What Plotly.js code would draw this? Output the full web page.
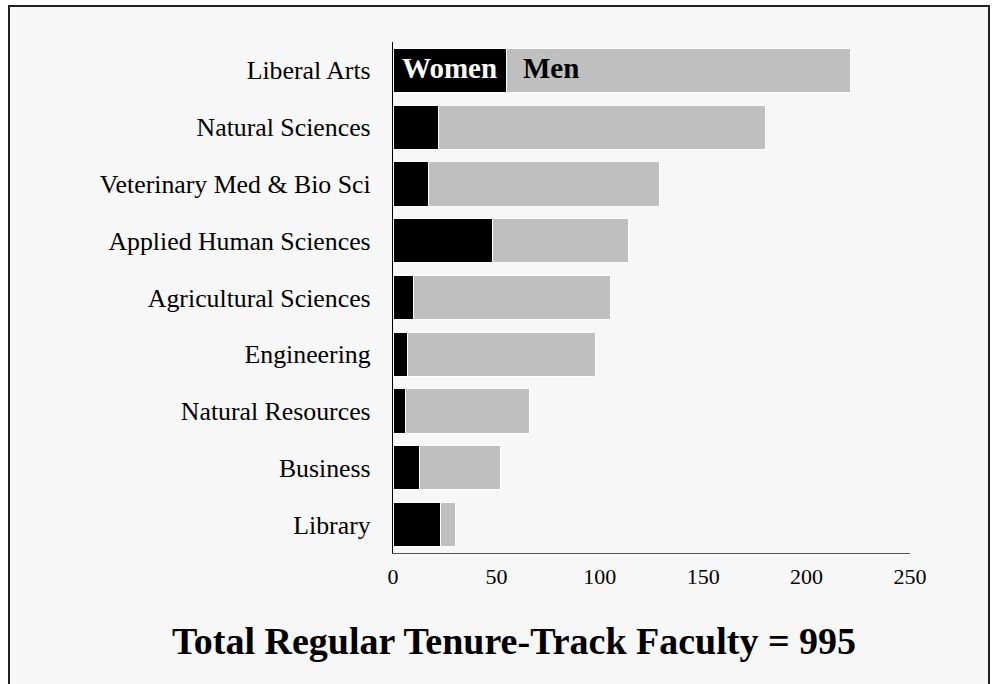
<!DOCTYPE html>
<html>
<head>
<meta charset="utf-8">
<script src="https://cdn.plot.ly/plotly-3.0.1.min.js"></script>
<style>html,body{margin:0;padding:0;background:#fff;}#chart{width:996px;height:684px;}</style>
</head>
<body>
<div id="chart"></div>
<script>
const categories = ["Liberal Arts", "Natural Sciences", "Veterinary Med & Bio Sci", "Applied Human Sciences", "Agricultural Sciences", "Engineering", "Natural Resources", "Business", "Library"];
const women = [55, 22, 17, 48, 10, 7, 6, 13, 23];
const men = [166, 158, 112, 66, 95, 91, 60, 39, 7];
const xTicks = [0, 50, 100, 150, 200, 250];
const titleText = "Total Regular Tenure-Track Faculty = 995";

const serif = "'Liberation Serif', 'Times New Roman', serif";

const traces = [
  {type: "bar", orientation: "h", name: "Women", y: categories, x: women,
   marker: {color: "#000000", line: {color: "#ffffff", width: 1}}, hoverinfo: "x+y"},
  {type: "bar", orientation: "h", name: "Men", y: categories, x: men,
   marker: {color: "#bfbfbf", line: {color: "#ffffff", width: 1}}, hoverinfo: "x+y"}
];

const L = 393, R = 910, T = 42, B = 553, W = 996, H = 684;
const pw = R - L, ph = B - T;
const px2x = p => (p - L) / pw;
const px2y = p => (B - p) / ph;

const layout = {
  width: W, height: H,
  margin: {l: L, r: W - R, t: T, b: H - B, pad: 0},
  barmode: "stack",
  bargap: 0.22,
  showlegend: false,
  paper_bgcolor: "#ffffff",
  plot_bgcolor: "rgba(0,0,0,0)",
  font: {family: serif, color: "#000"},
  xaxis: {
    range: [0, 250], tickvals: xTicks, ticktext: xTicks.map(String),
    showgrid: false, zeroline: false,
    showline: true, linecolor: "#555555", linewidth: 1.2,
    ticks: "outside", ticklen: 3, tickcolor: "rgba(0,0,0,0)",
    tickfont: {family: serif, size: 22, color: "#000"}
  },
  yaxis: {
    type: "category", range: [8.5, -0.5],
    showgrid: false, zeroline: false,
    showline: true, linecolor: "#000000", linewidth: 1.2,
    ticks: "outside", ticklen: 16, tickcolor: "rgba(0,0,0,0)",
    tickfont: {family: serif, size: 25.8, color: "#000"}
  },
  title: {
    text: "<b>" + titleText + "</b>",
    font: {family: serif, size: 38, color: "#000"},
    xref: "paper", x: px2x(514), xanchor: "center",
    yref: "container", y: 1 - 641 / H, yanchor: "middle"
  },
  shapes: [
    {type: "rect", xref: "paper", yref: "paper", layer: "below",
     x0: px2x(9), x1: px2x(989), y0: px2y(700), y1: px2y(6),
     fillcolor: "#f7f7f7", line: {color: "#222222", width: 2}}
  ],
  annotations: [
    {x: women[0] / 2, y: categories[0], xref: "x", yref: "y", text: "<b>Women</b>",
     showarrow: false, xanchor: "center", yanchor: "middle", yshift: 2,
     font: {family: serif, size: 29, color: "#ffffff"}},
    {x: women[0] + 7, y: categories[0], xref: "x", yref: "y", text: "<b>Men</b>",
     showarrow: false, xanchor: "left", yanchor: "middle", yshift: 2,
     font: {family: serif, size: 29, color: "#000000"}}
  ]
};

Plotly.newPlot("chart", traces, layout, {displayModeBar: false, staticPlot: true});
</script>
</body>
</html>
